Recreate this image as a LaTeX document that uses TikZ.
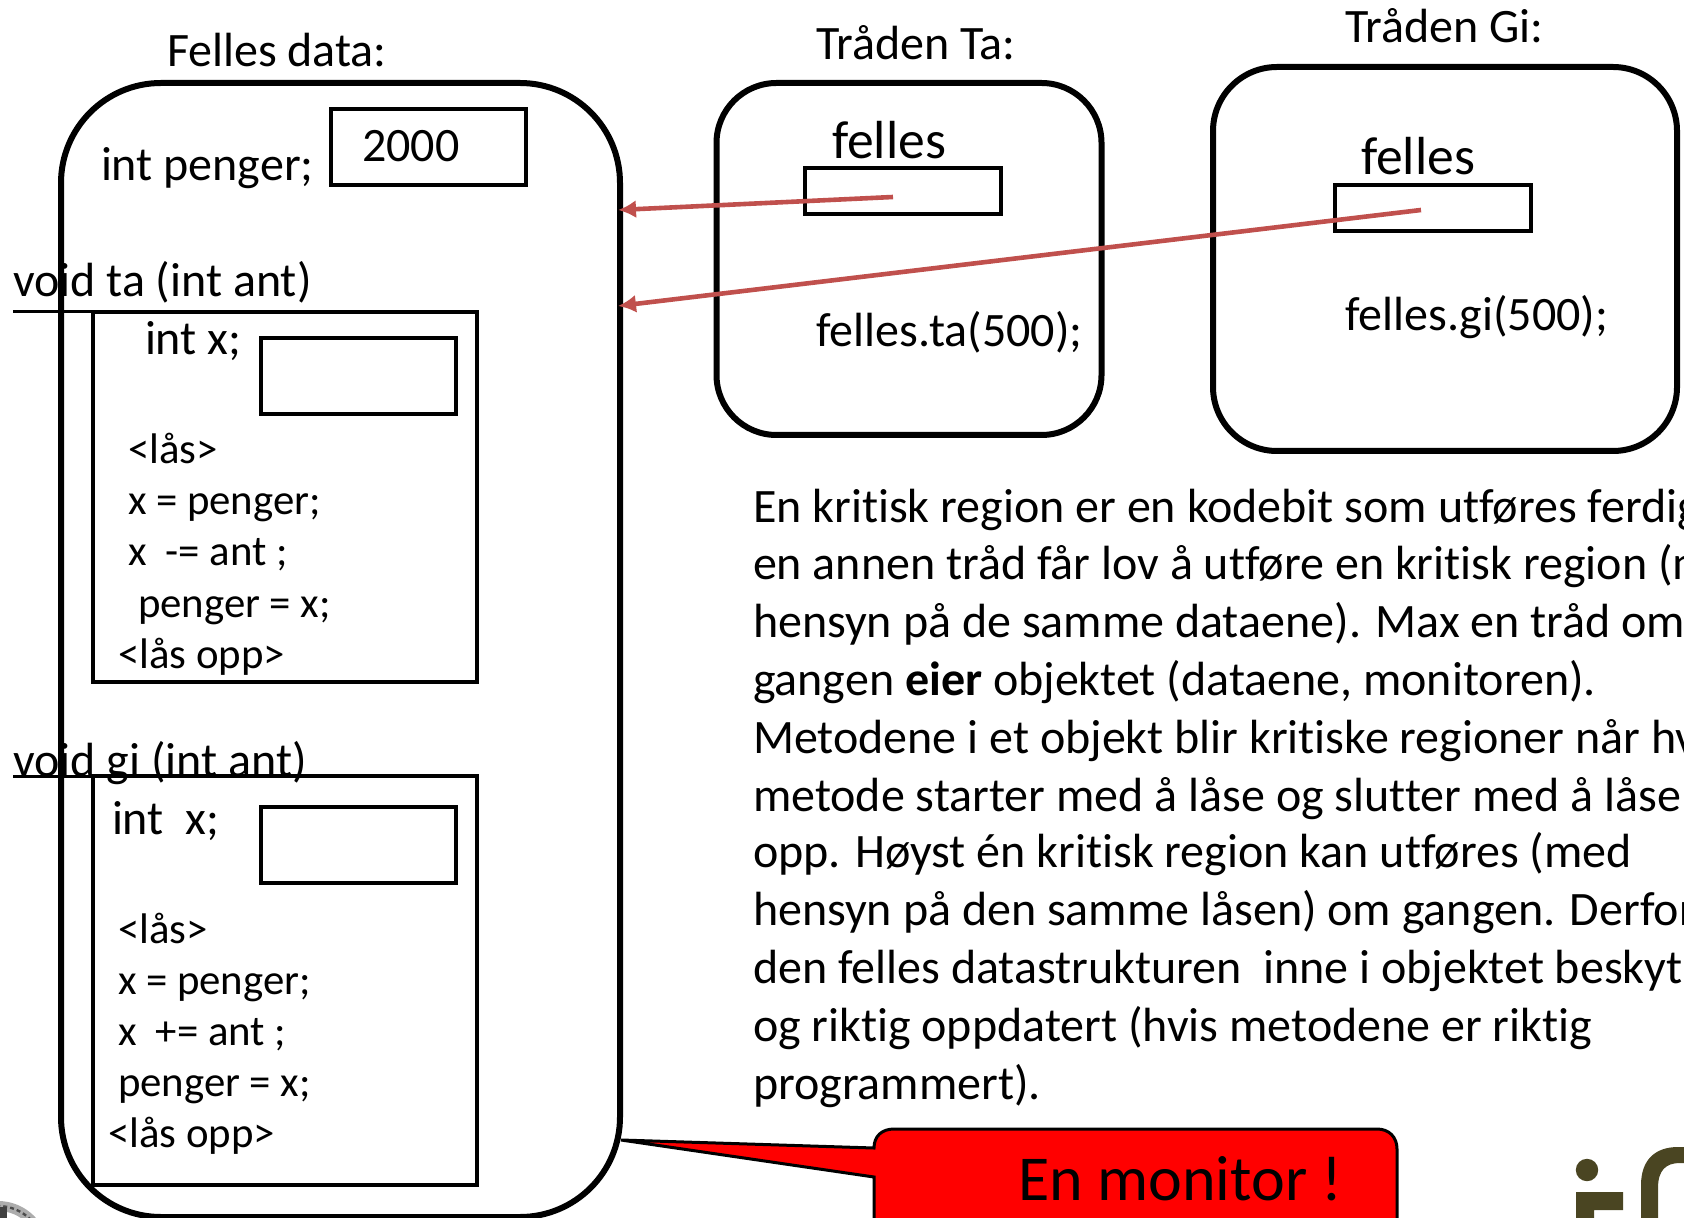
\documentclass[tikz,border=0pt]{standalone}
\usepackage{fontspec}
\setmainfont{Carlito}[Ligatures=NoCommon]
\usetikzlibrary{arrows.meta}
\definecolor{arrowred}{HTML}{C0504D}
\definecolor{logoolive}{HTML}{4A4522}
\begin{document}
\begin{tikzpicture}[x=0.5pt,y=-0.5pt,
  every node/.style={inner sep=0pt,outer sep=0pt},
  txt/.style={anchor=base west,font=\fontsize{#1pt}{#1pt}\selectfont},
  big/.style={txt=24},
  large/.style={txt=26.8},
  code/.style={txt=21.4},
  thickbox/.style={draw=black,line width=3pt,rounded corners=#1},
  plainbox/.style={draw=black,line width=2pt},
  refarrow/.style={draw=arrowred,line width=2.3pt,-{Latex[length=9pt,width=9pt]}}]
\useasboundingbox (0,0) rectangle (1684,1218);
\clip (0,0) rectangle (1684,1218);

% seal fragment
\draw[gray!65,line width=5pt] (-2,1252) circle[radius=23pt];
\draw[black!70,line width=1.2pt,dash pattern=on 2pt off 1.5pt] (-2,1252) circle[radius=23pt];
\fill[black!75] (0,1207) rectangle (7,1218);

% logo fragment
\fill[logoolive] (1587,1170) circle[radius=5.6pt];
\fill[logoolive] (1576,1192) -- (1623,1192) -- (1623,1210) -- (1594,1210) -- (1594,1218) -- (1576,1218) -- cycle;
\fill[logoolive] (1641,1218) -- (1641,1185) .. controls (1641,1160) and (1655,1147) .. (1678,1147) -- (1684,1147) -- (1684,1163) -- (1680,1163) .. controls (1666,1163) and (1658,1170) .. (1658,1188) -- (1658,1218) -- cycle;

% main boxes
\node[thickbox=50pt,minimum width=279.5pt,minimum height=567pt] (monitor) at (340.5,650) {};
\node[thickbox=30pt,minimum width=192.5pt,minimum height=176pt] (ta) at (909,259) {};
\node[thickbox=32pt,minimum width=232pt,minimum height=192pt] (gi) at (1445,259) {};

% value boxes
\node[plainbox,minimum width=97.5pt,minimum height=38pt] (penger) at (428.5,147) {};
\node[plainbox,minimum width=192pt,minimum height=185pt] (taMethod) at (285,497) {};
\node[plainbox,minimum width=97.5pt,minimum height=38pt] (xTa) at (358.5,376) {};
\node[plainbox,minimum width=192pt,minimum height=204.5pt] (giMethod) at (285,980.5) {};
\node[plainbox,minimum width=97.5pt,minimum height=38pt] (xGi) at (358.5,845) {};
\node[plainbox,minimum width=98pt,minimum height=23pt] (fellesTa) at (903,191) {};
\node[plainbox,minimum width=98pt,minimum height=23pt] (fellesGi) at (1433,208) {};

% underlines
\coordinate (taL) at (13,312);
\coordinate (taR) at (108,312);
\coordinate (giL) at (13,776);
\coordinate (giR) at (108,776);
\draw[black,line width=1.5pt] (taL) -- (taR);
\draw[black,line width=1.5pt] (giL) -- (giR);

% reference arrows
\coordinate (taStart) at (893,197);
\coordinate (taEnd) at (618,210);
\coordinate (giStart) at (1421,210);
\coordinate (giEnd) at (618,306);
\draw[refarrow] (taStart) -- (taEnd);
\draw[refarrow] (giStart) -- (giEnd);

% callout
\path[draw=black,line width=1.5pt,fill=red] (621,1140) -- (874,1148)
  .. controls (874,1136) and (882,1129) .. (894,1129) -- (1377,1129)
  .. controls (1389,1129) and (1397,1137) .. (1397,1149) -- (1397,1240)
  -- (874,1240) -- (874,1177) -- cycle;
\node[txt=32] (callout) at (1018,1200) {En monitor !};

% labels
\node[big] (lData) at (167,67) {Felles data:};
\node[big] (lPenger) at (101,181) {int penger;};
\node[big] (l2000) at (362,162) {2000};
\node[big] (lTa) at (13,297) {void ta (int ant)};
\node[big] (lIntTa) at (145,355) {int x;};
\node[code] (c1) at (128,464) {<lås>};
\node[code] (c2) at (128,515) {x = penger;};
\node[code] (c3) at (128,566) {x\ \ -= ant ;};
\node[code] (c4) at (138,617) {penger = x;};
\node[code] (c5) at (118,668) {<lås opp>};

\node[big] (lGi) at (13,776) {void gi (int ant)};
\node[big] (lIntGi) at (112,834) {int\ \ x;};
\node[code] (d1) at (118,943) {<lås>};
\node[code] (d2) at (118,994) {x = penger;};
\node[code] (d3) at (118,1045) {x\ \ += ant ;};
\node[code] (d4) at (118,1096) {penger = x;};
\node[code] (d5) at (108,1147) {<lås opp>};

\node[big] (lTraTa) at (816,60) {Tråden Ta:};
\node[big] (lTraGi) at (1345,43) {Tråden Gi:};
\node[large] (fTa) at (832,159) {felles};
\node[large] (fGi) at (1361,175) {felles};
\node[big] (cTa) at (816,347) {felles.ta(500);};
\node[big] (cGi) at (1345,331) {felles.gi(500);};

% paragraph
\node[big] (p1) at (753,523) {En kritisk region er en kodebit som utføres ferdig};
\node[big] (p2) at (753,579) {en annen tråd får lov å utføre en kritisk region (m};
\node[big] (p3) at (753,637) {hensyn på de samme dataene). Max en tråd om};
\node[big] (p4) at (753,695) {gangen \textbf{eier} objektet (dataene, monitoren).};
\node[big] (p5) at (753,753) {Metodene i et objekt blir kritiske regioner når hv};
\node[big] (p6) at (753,811) {metode starter med å låse og slutter med å låse};
\node[big] (p7) at (753,867) {opp. Høyst én kritisk region kan utføres (med};
\node[big] (p8) at (753,925) {hensyn på den samme låsen) om gangen. Derfor};
\node[big] (p9) at (753,983) {den felles datastrukturen\ \ inne i objektet beskyt};
\node[big] (p10) at (753,1041) {og riktig oppdatert (hvis metodene er riktig};
\node[big] (p11) at (753,1099) {programmert).};
\end{tikzpicture}
\end{document}
